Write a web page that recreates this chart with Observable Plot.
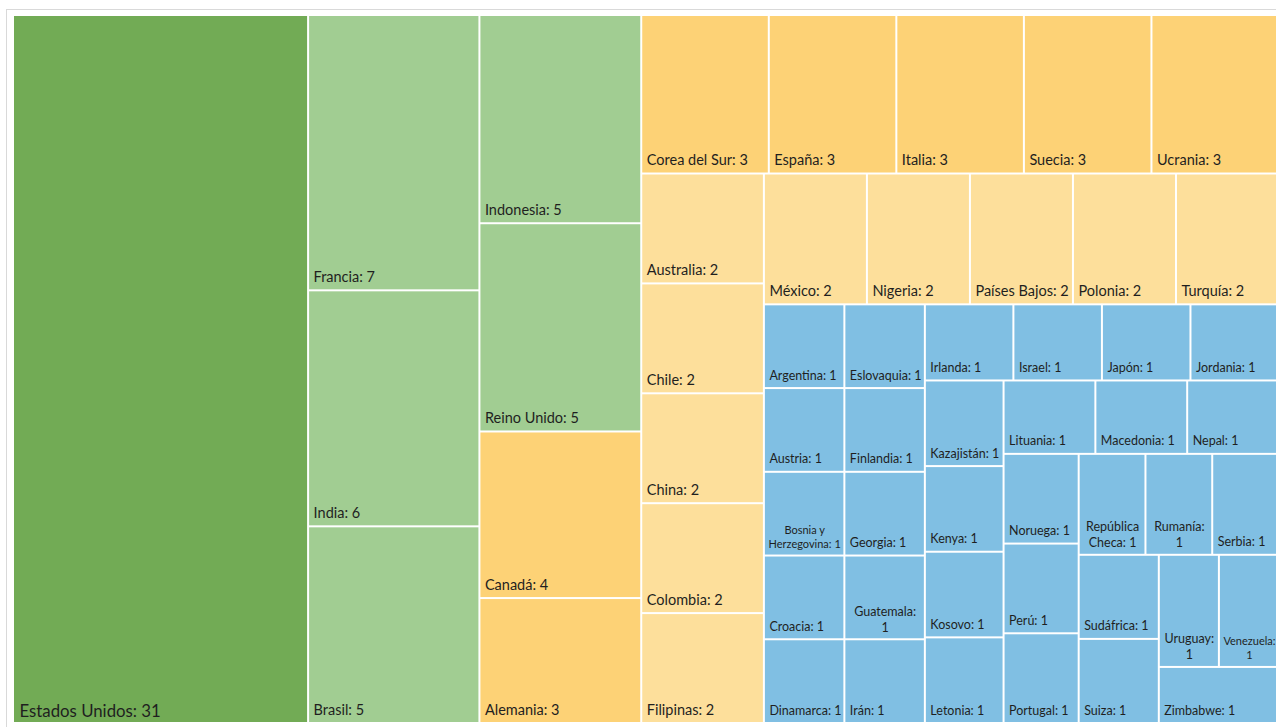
<!DOCTYPE html>
<html><head><meta charset="utf-8">
<script src="https://cdn.jsdelivr.net/npm/d3@7"></script>
<script src="https://cdn.jsdelivr.net/npm/@observablehq/plot@0.6"></script>
<style>
html,body{margin:0;padding:0;background:#fff;overflow:hidden;width:1276px;height:727px}
#frame{position:absolute;left:6px;top:9px;width:1400px;height:900px;border:1px solid #d9d9d9;box-sizing:border-box}
#chart{position:absolute;left:0;top:0}
</style></head><body>
<div id="frame"></div><div id="chart"></div>
<script>
// ---- data (in the order the cells are laid out) ----
const countries = [
  "Estados Unidos",
  "Francia", "India", "Brasil",
  "Indonesia", "Reino Unido", "Canadá", "Alemania",
  "Corea del Sur", "España", "Italia", "Suecia", "Ucrania",
  "Australia", "Chile", "China", "Colombia", "Filipinas",
  "México", "Nigeria", "Países Bajos", "Polonia", "Turquía",
  "Argentina", "Austria", "Bosnia y Herzegovina", "Croacia", "Dinamarca",
  "Eslovaquia", "Finlandia", "Georgia", "Guatemala", "Irán",
  "Irlanda", "Israel", "Japón", "Jordania",
  "Kazajistán", "Kenya", "Kosovo", "Letonia",
  "Lituania", "Macedonia", "Nepal",
  "Noruega", "Perú", "Portugal",
  "República Checa", "Rumanía", "Serbia",
  "Sudáfrica", "Suiza",
  "Uruguay", "Venezuela",
  "Zimbabwe"
];
const values = [
  31,
  7, 6, 5,
  5, 5, 4, 3,
  3, 3, 3, 3, 3,
  2, 2, 2, 2, 2,
  2, 2, 2, 2, 2,
  1, 1, 1, 1, 1,
  1, 1, 1, 1, 1,
  1, 1, 1, 1,
  1, 1, 1, 1,
  1, 1, 1,
  1, 1, 1,
  1, 1, 1,
  1, 1,
  1, 1,
  1
];
// labels that the original shows on two centred lines
const wrappedLabels = ["Bosnia y Herzegovina", "Guatemala", "República Checa", "Rumanía", "Uruguay", "Venezuela"];
// number of cells in each successive strip of the tiling
const stripCounts = [1, 3, 4, 5, 5, 5, 5, 5, 4, 4, 3, 3, 3, 2, 2, 1];
// colour tiers by value
const tierThresholds = [2, 3, 5, 8];
const tierColors = ["#80bfe3", "#fddf9b", "#fdd276", "#a1cd92", "#72ab55"];

// ---- layout ----
const W = 1276, H = 727;
const box = {x0: 13, y0: 15, x1: 1279, y1: 723};

function stripLayout(vals, counts, b) {
  let {x0, y0, x1, y1} = b;
  let remaining = d3.sum(vals);
  const out = [];
  let i = 0;
  for (const k of counts) {
    const vs = vals.slice(i, i + k);
    const s = d3.sum(vs);
    const w = x1 - x0, h = y1 - y0;
    if (w >= h) {
      const cw = w * s / remaining;
      let yy = y0;
      vs.forEach((v, j) => { const hh = h * v / s; out[i + j] = {x0, x1: x0 + cw, y0: yy, y1: yy + hh}; yy += hh; });
      x0 += cw;
    } else {
      const rh = h * s / remaining;
      let xx = x0;
      vs.forEach((v, j) => { const ww = w * v / s; out[i + j] = {x0: xx, x1: xx + ww, y0, y1: y0 + rh}; xx += ww; });
      y0 += rh;
    }
    remaining -= s; i += k;
  }
  return out;
}

const FONT = "Lato";
const ctx = document.createElement("canvas").getContext("2d");
function measure(t, fs) { ctx.font = `${fs}px ${FONT}`; return ctx.measureText(t).width; }
function fitLabel(text, base, avail, wrap) {
  if (!wrap) {
    let fs = base;
    while (fs > 6 && measure(text, fs) > avail) fs -= 0.25;
    return {lines: [text], fs};
  }
  for (let fs = base; fs >= 6; fs -= 0.25) {
    const words = text.split(" ");
    let lines = []; let cur = "";
    for (const w of words) {
      const t = cur ? cur + " " + w : w;
      if (cur && measure(t, fs) > avail) { lines.push(cur); cur = w; }
      else cur = t;
    }
    if (cur) lines.push(cur);
    if (lines.length === 1) {
      const k = text.lastIndexOf(" ");
      lines = [text.slice(0, k), text.slice(k + 1)];
    }
    if (lines.length <= 2 && lines.every(l => measure(l, fs) <= avail)) return {lines, fs};
  }
  return {lines: [text], fs: 6};
}

const rects = stripLayout(values, stripCounts, box);
const cells = countries.map((name, i) => {
  const r = rects[i];
  const label = `${name}: ${values[i]}`;
  const base = values[i] >= 20 ? 16.8 : values[i] >= 2 ? 14.5 : 12.5;
  const fit = fitLabel(label, base, (r.x1 - r.x0) - 7, wrappedLabels.includes(name));
  return {name, value: values[i], ...r, xc: (r.x0 + r.x1) / 2,
          text: fit.lines.join("\n"), fs: fit.fs, wrapped: fit.lines.length > 1, big: values[i] >= 20};
});

const chart = Plot.plot({
  width: W, height: H,
  margin: 0,
  x: {domain: [0, W], range: [0, W], axis: null},
  y: {domain: [0, H], range: [0, H], axis: null},
  color: {type: "threshold", domain: tierThresholds, range: tierColors},
  style: {background: "transparent", fontFamily: FONT},
  marks: [
    Plot.rect(cells, {x1: "x0", x2: "x1", y1: "y0", y2: "y1", fill: "value", inset: 1}),
    Plot.text(cells.filter(d => d.big), {x: "x0", y: "y1", text: "text", fontSize: "fs",
      textAnchor: "start", lineAnchor: "bottom", dx: 6, dy: -7, fill: "#1f1f1f"}),
    Plot.text(cells.filter(d => !d.big && !d.wrapped), {x: "x0", y: "y1", text: "text", fontSize: "fs",
      textAnchor: "start", lineAnchor: "bottom", dx: 5, dy: -9, fill: "#1f1f1f"}),
    Plot.text(cells.filter(d => d.wrapped), {x: "xc", y: "y1", text: "text", fontSize: "fs",
      textAnchor: "middle", lineAnchor: "bottom", lineHeight: 1.3, dy: -8, fill: "#1f1f1f"})
  ]
});
document.getElementById("chart").append(chart);
</script>
</body></html>
